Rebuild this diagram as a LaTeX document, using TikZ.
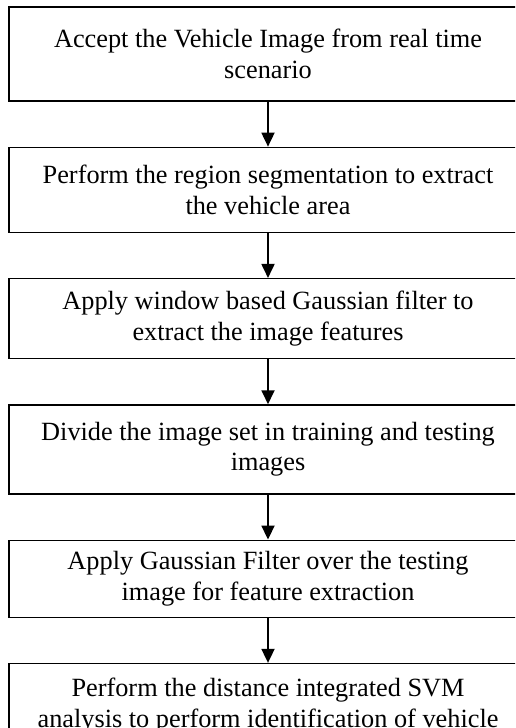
\documentclass[tikz,border=0pt]{standalone}
\usepackage{fontspec}
\setmainfont{Liberation Serif}
\usetikzlibrary{arrows.meta,positioning}

\begin{document}
\begin{tikzpicture}[x=1pt,y=1pt,
  box/.style={draw,line width=1.3pt,align=center,minimum width=518pt,
    inner sep=4pt,font=\fontsize{26.3}{30.5}\selectfont},
  node distance=45pt,>={Triangle[width=13pt,length=14pt]}]
\useasboundingbox (0,0) rectangle (515,-728);
\clip (0,0) rectangle (515,-728);
\node[box,minimum height=94pt] (accept) at (268,-54) {Accept the Vehicle Image from real time\\scenario};
\node[box,minimum height=85pt,below=of accept] (segment) {Perform the region segmentation to extract\\the vehicle area};
\node[box,minimum height=80pt,below=of segment] (filter) {Apply window based Gaussian filter to\\extract the image features};
\node[box,minimum height=89pt,below=of filter] (divide) {Divide the image set in training and testing\\images};
\node[box,minimum height=77pt,below=of divide] (gauss) {Apply Gaussian Filter over the testing\\image for feature extraction};
\node[box,minimum height=84pt,below=of gauss] (svm) {Perform the distance integrated SVM\\analysis to perform identification of vehicle};
\draw[->,line width=1.8pt] (accept) -- (segment);
\draw[->,line width=1.8pt] (segment) -- (filter);
\draw[->,line width=1.8pt] (filter) -- (divide);
\draw[->,line width=1.8pt] (divide) -- (gauss);
\draw[->,line width=1.8pt] (gauss) -- (svm);
\end{tikzpicture}
\end{document}
